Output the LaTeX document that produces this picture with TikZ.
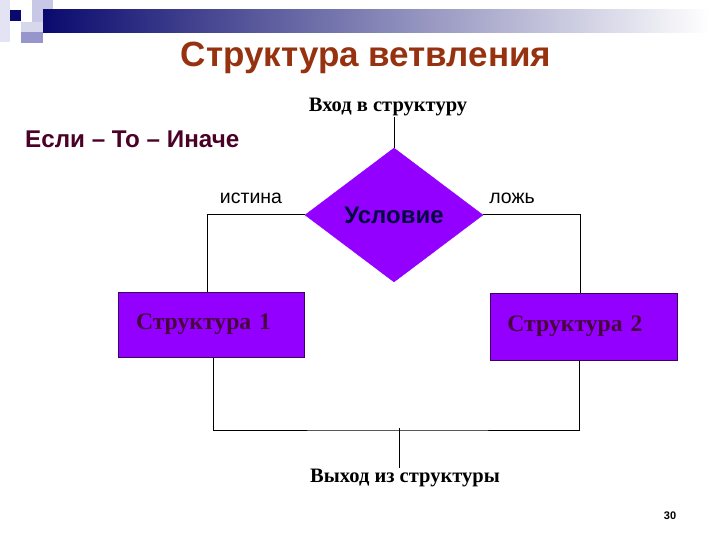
\documentclass[tikz,border=0pt]{standalone}
\usepackage{fontspec}
\setmainfont{Liberation Serif}
\newfontfamily\arial{Liberation Sans}
\usetikzlibrary{shapes.geometric}
\definecolor{violetfill}{RGB}{148,0,255}
\definecolor{boxborder}{RGB}{60,0,100}
\definecolor{boxtext}{RGB}{70,0,60}
\definecolor{titlebrown}{RGB}{150,50,15}
\definecolor{ifcolor}{RGB}{75,0,40}
\definecolor{navy}{RGB}{10,10,110}
\definecolor{lav}{RGB}{200,200,230}
\definecolor{midlav}{RGB}{150,150,205}
\tikzset{
  wire/.style={draw=black, line width=1pt},
  structbox/.style={draw=boxborder, line width=1pt, fill=violetfill, inner sep=0pt,
    font=\fontsize{23.7}{26}\selectfont\bfseries, text=boxtext},
  cond/.style={diamond, draw=violetfill, fill=violetfill, inner sep=0pt,
    minimum width=178pt, minimum height=134pt, aspect=1.33,
    font=\arial\fontsize{24}{26}\selectfont\bfseries, text=navy!60!black},
  serlabel/.style={font=\fontsize{20.5}{23}\selectfont\bfseries, text=black, inner sep=1pt},
  branchlabel/.style={font=\arial\fontsize{19.5}{21}\selectfont, text=black, inner sep=1pt}
}
\begin{document}
\begin{tikzpicture}[x=1pt, y=-1pt]
\useasboundingbox (0,0) rectangle (720,540);
\fill[white] (0,0) rectangle (720,540);
% decorative header
\fill[lav!50] (0,0) rectangle (10,42);
\fill[lav] (32,0) rectangle (53,22);
\fill[lav!70] (21,22) rectangle (43,32);
\fill[midlav] (21,32) rectangle (43,43);
\fill[navy] (10,10) rectangle (21,21);
\shade[left color=navy, right color=white] (43,10) rectangle (710,33);
% title
\node[font=\arial\fontsize{35}{38}\selectfont\bfseries, text=titlebrown] (title) at (366,58) {Структура ветвления};
\node[font=\arial\fontsize{24.2}{27}\selectfont\bfseries, text=ifcolor, anchor=west, inner sep=0pt] (ifthen) at (25,139) {Если – То – Иначе};
% diagram
\node[serlabel] (entry) at (388,107) {Вход в структуру};
\node[cond] (c) at (394,215) {Условие};
\node[branchlabel] (true) at (251,198) {истина};
\node[branchlabel] (false) at (512,198) {ложь};
\node[structbox, minimum width=186pt, minimum height=65pt, text width=170pt, align=left] (s1) at (211,324.5) {\hspace*{10pt}Структура 1};
\node[structbox, minimum width=187pt, minimum height=67pt, text width=170pt, align=right] (s2) at (583.5,326.5) {Структура 2\hspace*{26pt}};
\node[serlabel] (exit) at (405,478) {Выход из структуры};
\coordinate (join) at (399,430);
\draw[wire] (c.north |- entry.south) -- (c.north);
\draw[wire] (c.west) -| ([xshift=-4pt]s1.north);
\draw[wire] (c.east) -| ([xshift=-3.5pt]s2.north);
\draw[wire] ([xshift=2pt]s1.south) |- (join) -| ([xshift=-4.5pt]s2.south);
\draw[wire] ([yshift=2pt]join) -- (join |- exit.north);
\node[font=\arial\fontsize{11}{12}\selectfont\bfseries] (page) at (670,516) {30};
\end{tikzpicture}
\end{document}
